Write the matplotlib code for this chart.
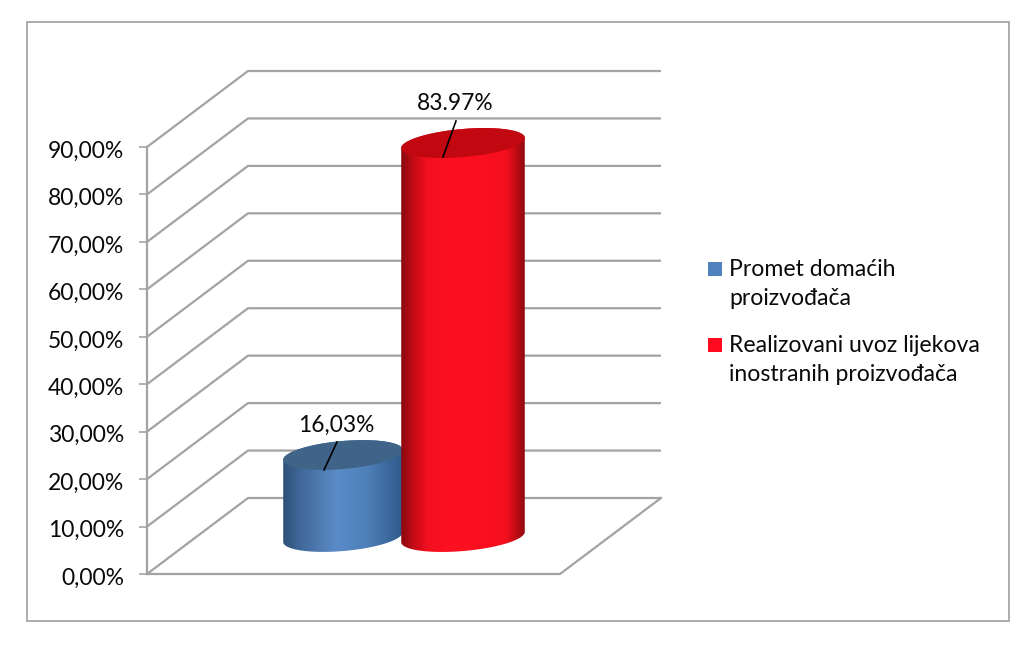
import numpy as np
import matplotlib
matplotlib.use("Agg")
import matplotlib.pyplot as plt
from matplotlib.colors import LinearSegmentedColormap
from matplotlib.lines import Line2D
from matplotlib.patches import Polygon, Rectangle
from matplotlib.transforms import Affine2D, ScaledTranslation

categories = ["Promet domaćih\nproizvođača", "Realizovani uvoz lijekova\ninostranih proizvođača"]
values = [16.03, 83.97]
value_labels = ["16,03%", "83.97%"]
ticks = [0, 10, 20, 30, 40, 50, 60, 70, 80, 90]
tick_labels = ["0,00%", "10,00%", "20,00%", "30,00%", "40,00%", "50,00%", "60,00%", "70,00%", "80,00%", "90,00%"]

plt.rcParams["font.family"] = ["Lato", "DejaVu Sans"]
W, H = 1024, 645
GREY = "#a3a3a3"
TXT = "#0a0a0a"

fig = plt.figure(figsize=(W / 100, H / 100), dpi=100, facecolor="white")
# pixel coordinates with y going down, for frame, legend and labels
pxt = Affine2D().scale(1, -1).translate(0, H)

# front plane of the chart: 147..560 px across, 574..147 px for 0..90 %
ax = fig.add_axes([147 / W, (H - 574) / H, (560 - 147) / W, (574 - 147) / H])
sx = 120.0  # px per category
sy = (574 - 147) / 90.0  # px per percent
x0 = -(343 - 50 - 147) / sx
x1 = x0 + (560 - 147) / sx
depth_x = 101 / sx
depth_y = 76 / sy

# walls and floor
for t in ticks:
    ax.plot([x0, x0 + depth_x, x1 + depth_x], [t, t + depth_y, t + depth_y],
            color=GREY, lw=1.6, clip_on=False, zorder=1, solid_capstyle="butt")
ax.plot([x0, x1, x1 + depth_x], [0, 0, depth_y], color=GREY, lw=1.6, clip_on=False, zorder=1)

# bars stand in the middle of the depth, which has its own scale on screen
plane_x = 50 / sx
plane_y0 = (574 - 528.6) / sy
plane_scale = 4.592 / sy
floor_value = -1.83
half_widths = [60, 62]
ell_b = 14.0
tilt = np.radians(5)
cmaps = [
    LinearSegmentedColormap.from_list("b", [(0, "#2f5177"), (0.12, "#3e6594"), (0.45, "#5b8cc8"),
                                            (0.7, "#4f7fb8"), (1, "#2f5a8c")]),
    LinearSegmentedColormap.from_list("r", [(0, "#8a0a10"), (0.1, "#c40c16"), (0.22, "#f40f20"),
                                            (0.5, "#ff1020"), (0.85, "#f40f1e"), (1, "#94080e")]),
]
top_colors = ["#3f6488", "#c1070f"]


def ellipse(pos, level, a, t):
    dx = a * np.cos(t) * np.cos(tilt) - ell_b * np.sin(t) * np.sin(tilt)
    dy = a * np.cos(t) * np.sin(tilt) + ell_b * np.sin(t) * np.cos(tilt)
    return pos + dx / sx, level + dy / sy


for i, v in enumerate(values):
    pos = i + plane_x
    a = half_widths[i]
    top = plane_y0 + plane_scale * v
    base = plane_y0 + plane_scale * floor_value
    t0 = np.arctan(-(ell_b / a) * np.tan(tilt))
    front = np.linspace(t0 + np.pi, t0 + 2 * np.pi, 80)
    back = np.linspace(t0, t0 + np.pi, 80)
    bx, by = ellipse(pos, base, a, front)
    tx, ty = ellipse(pos, top, a, back)
    body = Polygon(np.column_stack([np.r_[bx, tx], np.r_[by, ty]]), closed=True,
                   transform=ax.transData, fc="none", ec="none")
    ax.add_patch(body)
    im = ax.imshow(np.linspace(0, 1, 200)[None, :], cmap=cmaps[i], aspect="auto",
                   extent=(bx.min(), bx.max(), by.min(), ty.max()),
                   interpolation="bilinear", zorder=2 + i)
    # the red bar rises past the top of the front plane
    im.set_clip_box(fig.bbox)
    im.set_clip_path(body)
    ex, ey = ellipse(pos, top, a, np.linspace(0, 2 * np.pi, 160))
    ax.fill(ex, ey, color=top_colors[i], lw=0, zorder=2 + i, clip_on=False)

ax.set_xlim(x0, x1)
ax.set_ylim(0, 90)
ax.set_xticks([])
ax.set_yticks(ticks)
ax.set_yticklabels(tick_labels, fontsize=16.5, color=TXT)
ax.tick_params(axis="y", length=5.8, width=1.2, color=GREY, pad=10.5)
# tick labels sit a little below their ticks
shift = ScaledTranslation(0, -1.5 / 72, fig.dpi_scale_trans)
for lab in ax.get_yticklabels():
    lab.set_transform(lab.get_transform() + shift)
for s in ["top", "right", "bottom"]:
    ax.spines[s].set_visible(False)
ax.spines["left"].set_color(GREY)
ax.spines["left"].set_linewidth(1.6)
ax.patch.set_alpha(0)

# outer frame
fig.add_artist(Rectangle((27, 22), 982, 599, transform=pxt, fc="none", ec="#a6a6a6", lw=1.3))

# value labels with leaders
label_xy = [(336, 425), (455, 104)]
leaders = [((337, 442), (324, 470)), ((456, 121), (443, 157))]
for lab, (lx, ly), (p, q) in zip(value_labels, label_xy, leaders):
    fig.text(lx, ly, lab, transform=pxt, ha="center", va="center", fontsize=16.4, color=TXT)
    fig.add_artist(Line2D([p[0], q[0]], [p[1], q[1]], transform=pxt, color="black", lw=1.2))

# legend
swatches = ["#4f81bd", "#ff0a1e"]
swatch_y = [262, 338]
text_y = [284, 360]
for name, c, sy_, ty_ in zip(categories, swatches, swatch_y, text_y):
    fig.add_artist(Rectangle((708, sy_), 14, 14, transform=pxt, fc=c, ec="none"))
    fig.text(729, ty_, name, transform=pxt, ha="left", va="center", fontsize=16.6,
             color=TXT, linespacing=1.42)

fig.savefig("out.png", dpi=100, facecolor="white")
